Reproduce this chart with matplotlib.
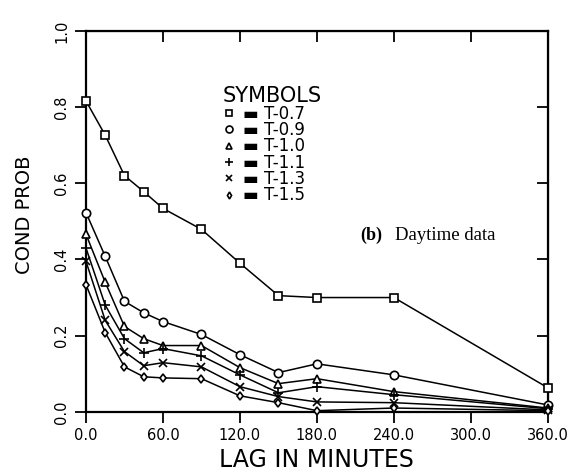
import matplotlib
matplotlib.use("Agg")
import matplotlib.pyplot as plt
from matplotlib.lines import Line2D

# Lag times (minutes) and conditional probabilities for each threshold
lags = [0, 15, 30, 45, 60, 90, 120, 150, 180, 240, 360]
p_t07 = [0.816, 0.726, 0.620, 0.578, 0.534, 0.479, 0.390, 0.305, 0.300, 0.300, 0.063]
p_t09 = [0.523, 0.408, 0.290, 0.260, 0.237, 0.203, 0.150, 0.103, 0.126, 0.097, 0.018]
p_t10 = [0.466, 0.340, 0.224, 0.192, 0.174, 0.174, 0.116, 0.074, 0.087, 0.053, 0.010]
p_t11 = [0.430, 0.280, 0.192, 0.155, 0.166, 0.147, 0.097, 0.050, 0.066, 0.045, 0.008]
p_t13 = [0.395, 0.240, 0.158, 0.121, 0.129, 0.118, 0.066, 0.040, 0.026, 0.024, 0.005]
p_t15 = [0.334, 0.208, 0.118, 0.092, 0.089, 0.087, 0.042, 0.024, 0.003, 0.010, 0.003]

series_labels = ["T-0.7", "T-0.9", "T-1.0", "T-1.1", "T-1.3", "T-1.5"]
x_ticks = [0, 60, 120, 180, 240, 300, 360]
x_ticklabels = ["0.0", "60.0", "120.0", "180.0", "240.0", "300.0", "360.0"]
y_ticks = [0.0, 0.2, 0.4, 0.6, 0.8, 1.0]
y_ticklabels = ["0.0", "0.2", "0.4", "0.6", "0.8", "1.0"]

series = [p_t07, p_t09, p_t10, p_t11, p_t13, p_t15]
markers = ["s", "o", "^", "+", "x", "d"]
msizes = [6, 6, 5.5, 7, 6, 4.5]

fig = plt.figure(figsize=(5.81, 4.75), dpi=100)
ax = fig.add_axes([0.148, 0.133, 0.795, 0.802])

handles = []
for vals, mk, ms, lab in zip(series, markers, msizes, series_labels):
    ax.plot(lags, vals, color="black", lw=1.1, marker=mk, ms=ms,
            mfc="white", mec="black", mew=1.2, clip_on=False, zorder=3)
    handles.append(Line2D([], [], ls="none", marker=mk, ms=ms - 1, mfc="white",
                          mec="black", mew=1.2, label="\u25ac " + lab))

ax.set_xlim(0, 360)
ax.set_ylim(0, 1.0)
ax.set_xticks(x_ticks)
ax.set_xticklabels(x_ticklabels)
ax.set_yticks(y_ticks)
ax.set_yticklabels(y_ticklabels, rotation=90, va="center")

for s in ax.spines.values():
    s.set_linewidth(1.6)

ax.tick_params(direction="out", length=8, width=1.3, labelsize=10.5, pad=4)

# inward ticks along the top and right frame
top = ax.secondary_xaxis("top")
top.set_xticks(x_ticks)
top.tick_params(direction="in", length=8, width=1.3, labeltop=False)
right = ax.secondary_yaxis("right")
right.set_yticks(y_ticks)
right.tick_params(direction="in", length=8, width=1.3, labelright=False)

ax.set_xlabel("LAG IN MINUTES", fontsize=17, labelpad=3)
ax.set_ylabel("COND PROB", fontsize=14)
ax.yaxis.set_label_coords(-0.112, 0.517)

leg = ax.legend(handles=handles, title="SYMBOLS", loc="upper left",
                bbox_to_anchor=(0.27, 0.885), frameon=False, fontsize=12,
                title_fontsize=15, handlelength=0.8, handletextpad=0.45,
                labelspacing=-0.1, borderpad=0.2, alignment="left")

ax.text(0.593, 0.462, "(b)", transform=ax.transAxes, fontsize=13,
        family="Liberation Serif", fontweight="bold", va="center")
ax.text(0.668, 0.462, "Daytime data", transform=ax.transAxes, fontsize=13.5,
        family="Liberation Serif", va="center")

fig.savefig("out.png", dpi=100)
